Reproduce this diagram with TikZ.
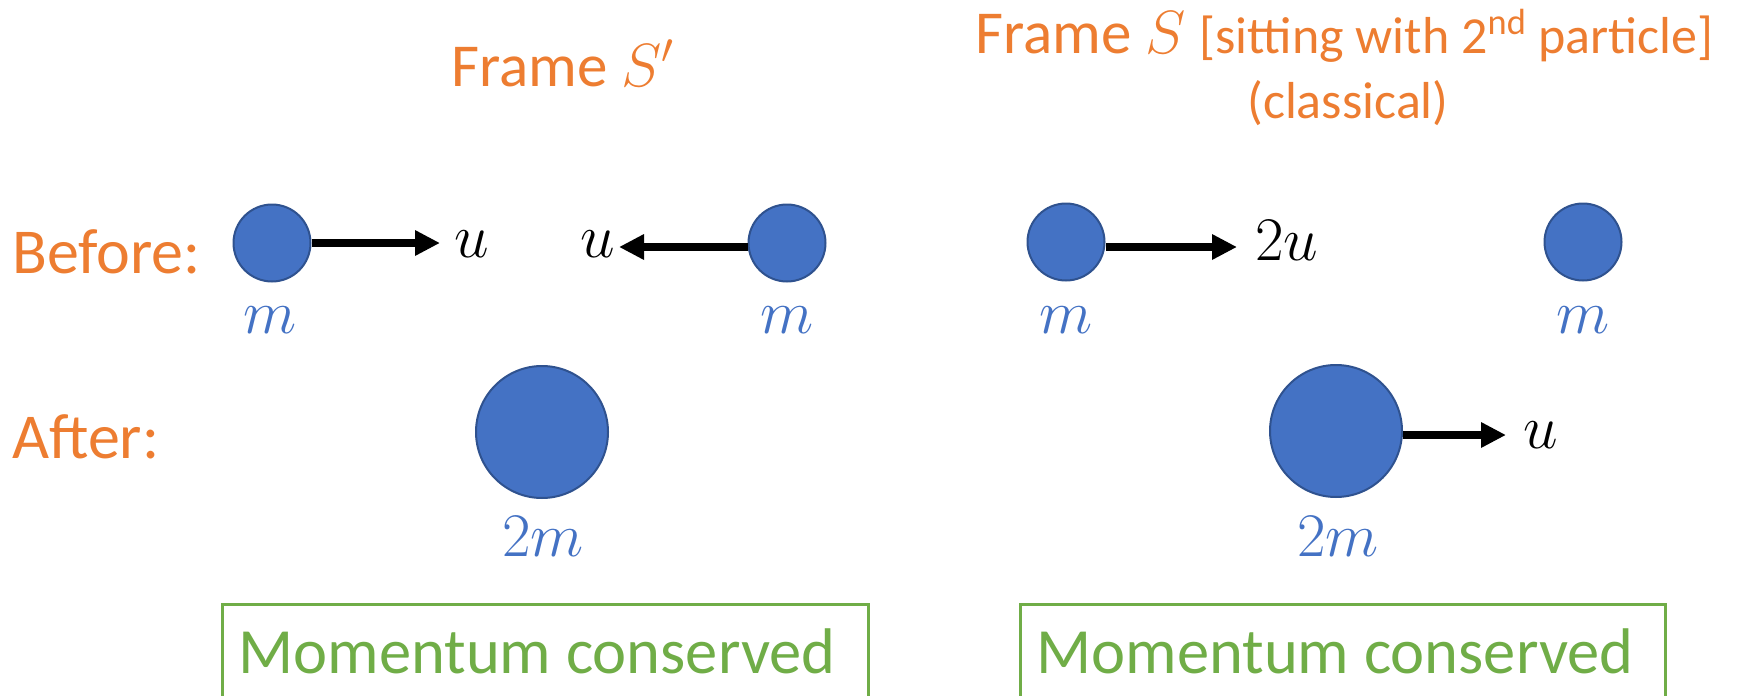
\RequirePackage{fix-cm}
\documentclass[tikz,border=0pt]{standalone}
\usepackage{fontspec}
\setmainfont{Carlito}
\usetikzlibrary{arrows.meta}
\definecolor{orng}{HTML}{ED7D31}
\definecolor{blu}{HTML}{4472C4}
\definecolor{bluedge}{HTML}{2F528F}
\definecolor{grn}{HTML}{70AD47}
\tikzset{
  ball/.style={circle, fill=blu, draw=bluedge, line width=2pt, inner sep=0pt, minimum size=#1},
  vel/.style={black, line width=8pt, -{Triangle[length=25pt,width=24pt]}},
  title/.style={inner sep=0pt, anchor=base west, text=orng},
  mass/.style={inner sep=0pt, anchor=base, text=blu, font=\fontsize{62}{70}\selectfont},
  vlab/.style={inner sep=0pt, anchor=base west, text=black, font=\fontsize{62}{70}\selectfont},
  consbox/.style={draw=grn, line width=3pt},
  constext/.style={inner sep=0pt, anchor=base, text=grn, font=\fontsize{64.5}{76}\selectfont}
}
\begin{document}
\begin{tikzpicture}[x=1pt,y=-1pt]
\useasboundingbox (0,0) rectangle (1738,696);
\clip (0,0) rectangle (1738,696);
% titles
\node[title, font=\fontsize{61}{72}\selectfont] (tSp) at (451,86) {Frame $S'$};
\node[title] (tS) at (975,53) {\fontsize{61}{72}\selectfont Frame $S$ \fontsize{52}{62}\selectfont[sitting with 2\textsuperscript{nd} particle]};
\node[title, anchor=base, font=\fontsize{52}{62}\selectfont] (tcl) at (1348,118) {(classical)};
\node[title, font=\fontsize{64}{76}\selectfont] (before) at (12,273) {Before:};
\node[title, font=\fontsize{64}{76}\selectfont] (after) at (12,458) {After:};
% frame S' before
\node[ball=77pt] (b1) at (272,243) {};
\node[ball=77pt] (b2) at (787,243) {};
\coordinate (t1) at (440,243);
\coordinate (t2) at (619,247);
\draw[vel] (b1.east) -- (t1);
\draw[vel] (b2.west |- t2) -- (t2);
\node[vlab] (u1) at (454,257) {$u$};
\node[vlab] (u2) at (580,257) {$u$};
\node[mass] (m1) at (270,333) {$m$};
\node[mass] (m2) at (787,333) {$m$};
% frame S' after
\node[ball=132pt] (B1) at (542,432) {};
\node[mass] (M1) at (543,556) {$2m$};
% frame S before
\node[ball=77pt] (b3) at (1066,242) {};
\node[ball=77pt] (b4) at (1583,242) {};
\coordinate (t3) at (1237,247);
\draw[vel] (b3.east |- t3) -- (t3);
\node[vlab] (u3) at (1255,260) {$2u$};
\node[mass] (m3) at (1066,333) {$m$};
\node[mass] (m4) at (1583,333) {$m$};
% frame S after
\node[ball=132pt] (B2) at (1336,431) {};
\coordinate (t4) at (1506,435);
\draw[vel] (B2.east |- t4) -- (t4);
\node[vlab] (u4) at (1523,448) {$u$};
\node[mass] (M2) at (1338,556) {$2m$};
% conservation boxes
\draw[consbox] (222,604) rectangle (868,720);
\draw[consbox] (1020,604) rectangle (1665,720);
\node[constext] (c1) at (537,673) {Momentum conserved};
\node[constext] (c2) at (1335,673) {Momentum conserved};
\end{tikzpicture}
\end{document}
